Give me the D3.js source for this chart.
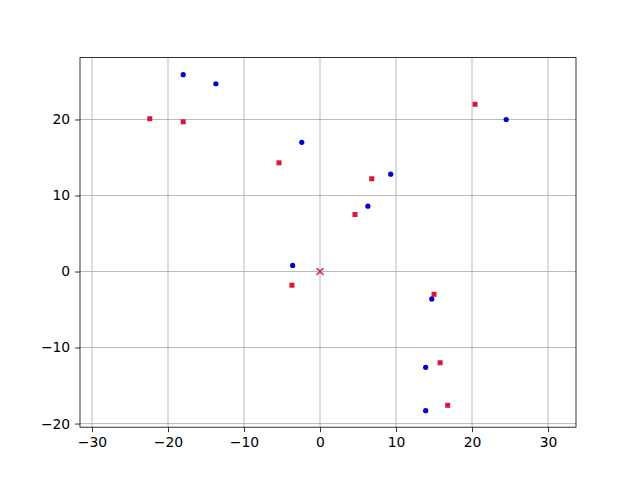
<!DOCTYPE html>
<html>
<head>
<meta charset="utf-8">
<script src="https://cdn.jsdelivr.net/npm/d3@7"></script>
<style>
  body { margin: 0; background: #fff; }
  svg text { font-family: "DejaVu Sans", sans-serif; }
</style>
</head>
<body>
<div id="chart"></div>
<script>
// blue points (circles)
var blueX = [-18.0, -13.7, -2.4, 9.3, 6.3, -3.6, 14.7, 13.9, 13.9, 24.5];
var blueY = [25.9, 24.7, 17.0, 12.8, 8.6, 0.8, -3.6, -12.6, -18.3, 20.0];
// red points (squares)
var redX = [-22.4, -18.0, -5.4, 6.8, 4.6, -3.7, 15.0, 15.8, 16.8, 20.4];
var redY = [20.1, 19.7, 14.3, 12.2, 7.5, -1.8, -3.0, -12.0, -17.6, 22.0];
var xTicks = [-30, -20, -10, 0, 10, 20, 30];
var yTicks = [-20, -10, 0, 10, 20];

var width = 640, height = 480;
var plotL = 80, plotR = 576, plotT = 57.6, plotB = 427.2;

var svg = d3.select("#chart").append("svg")
    .attr("width", width)
    .attr("height", height)

var x = d3.scaleLinear().domain([-31.58, 33.68]).range([plotL, plotR])
var y = d3.scaleLinear().domain([-20.48, 28.14]).range([plotB, plotT])

// grid
svg.append("g").selectAll("line")
    .data(xTicks).enter().append("line")
    .attr("x1", d => x(d)).attr("x2", d => x(d))
    .attr("y1", plotT).attr("y2", plotB)
    .attr("stroke", "#a8a8a8").attr("stroke-width", 0.8)
svg.append("g").selectAll("line")
    .data(yTicks).enter().append("line")
    .attr("y1", d => y(d)).attr("y2", d => y(d))
    .attr("x1", plotL).attr("x2", plotR)
    .attr("stroke", "#a8a8a8").attr("stroke-width", 0.8)

// axes
var fmt = d => d < 0 ? "\u2212" + Math.abs(d) : d
var xAxis = svg.append("g")
    .attr("transform", "translate(0," + plotB + ")")
    .call(d3.axisBottom(x).tickValues(xTicks).tickSize(4.9).tickPadding(4.9).tickFormat(fmt))
var yAxis = svg.append("g")
    .attr("transform", "translate(" + plotL + ",0)")
    .call(d3.axisLeft(y).tickValues(yTicks).tickSize(4.9).tickPadding(4.9).tickFormat(fmt))
;[xAxis, yAxis].forEach(function(a) {
    a.select(".domain").remove()
    a.selectAll("line").attr("stroke", "#000").attr("stroke-width", 0.8)
    a.selectAll("text").attr("font-size", 13.9).attr("fill", "#000")
})

svg.append("rect")
    .attr("x", plotL).attr("y", plotT)
    .attr("width", plotR - plotL).attr("height", plotB - plotT)
    .attr("fill", "none").attr("stroke", "#000").attr("stroke-width", 0.8)

// red squares
svg.append("g").selectAll("rect")
    .data(d3.range(redX.length)).enter().append("rect")
    .attr("x", i => x(redX[i]) - 2.5)
    .attr("y", i => y(redY[i]) - 2.5)
    .attr("width", 5).attr("height", 5)
    .attr("fill", "#dc143c")

// blue circles
svg.append("g").selectAll("circle")
    .data(d3.range(blueX.length)).enter().append("circle")
    .attr("cx", i => x(blueX[i]))
    .attr("cy", i => y(blueY[i]))
    .attr("r", 2.6)
    .attr("fill", "#0000cd")

// origin marker
var ox = x(0), oy = y(0)
svg.append("path")
    .attr("d", "M" + (ox - 3.5) + "," + (oy - 3.5) + "L" + (ox + 3.5) + "," + (oy + 3.5) +
               "M" + (ox - 3.5) + "," + (oy + 3.5) + "L" + (ox + 3.5) + "," + (oy - 3.5))
    .attr("stroke", "#dc143c").attr("stroke-width", 1.3).attr("fill", "none")
</script>
</body>
</html>
